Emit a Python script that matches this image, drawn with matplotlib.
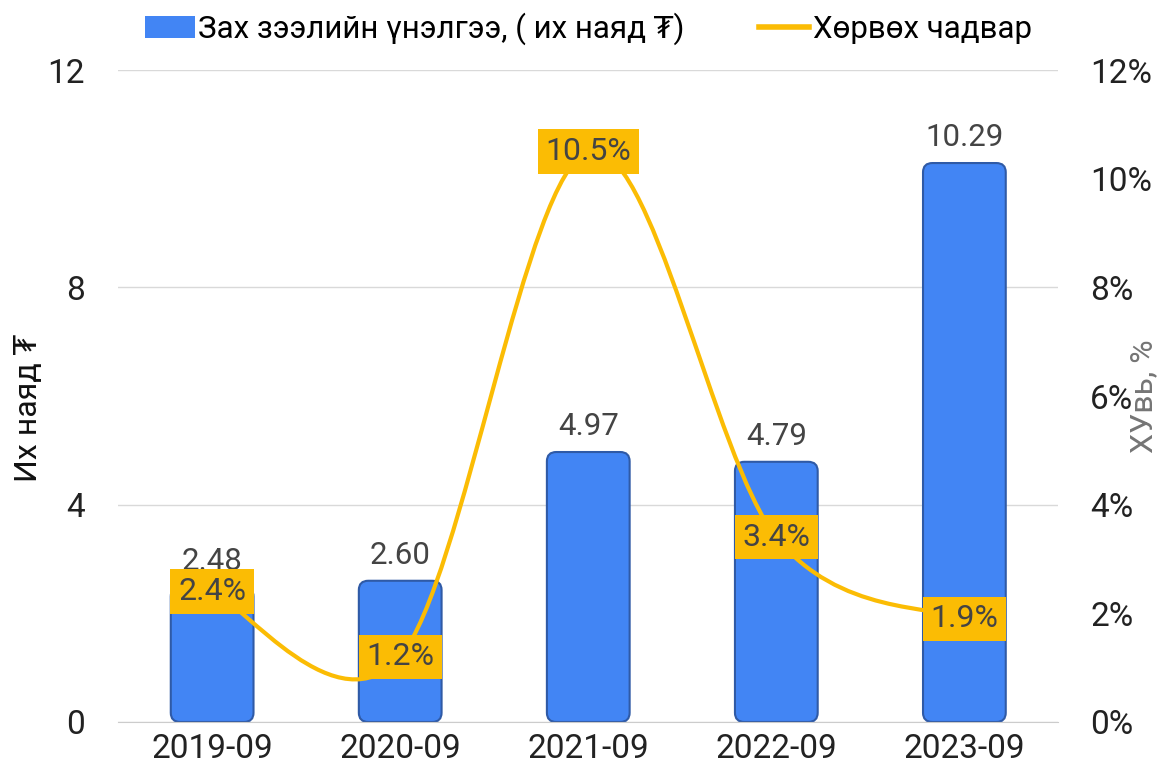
import matplotlib.pyplot as plt
from matplotlib.patches import FancyBboxPatch, Patch
from matplotlib.lines import Line2D
from matplotlib.path import Path
from matplotlib.patches import PathPatch
from matplotlib.ticker import FuncFormatter

# Өгөгдөл
periods = ['2019-09', '2020-09', '2021-09', '2022-09', '2023-09']
market_cap = [2.48, 2.60, 4.97, 4.79, 10.29]
turnover = [2.4, 1.2, 10.5, 3.4, 1.9]

bar_label = 'Зах зээлийн үнэлгээ, ( их наяд ₮)'
line_label = 'Хөрвөх чадвар'

blue = '#4285f4'
blue_edge = '#2f5aa6'
yellow = '#fbbc04'
text_dark = '#444444'

plt.rcParams['font.family'] = ['Roboto', 'DejaVu Sans']

fig = plt.figure(figsize=(11.58, 7.76), dpi=100)
ax = fig.add_axes([0.102, 0.0696, 0.812, 0.840])
ax2 = ax.twinx()

x = list(range(len(periods)))

# Баганууд (булан нь дугуйрсан)
bars = ax.bar(x, market_cap, width=0.44, color=blue)
for b in bars:
    b.set_visible(False)
    p = FancyBboxPatch((b.get_x(), 0), b.get_width(), b.get_height(),
                       boxstyle='round,pad=0,rounding_size=0.05',
                       mutation_aspect=3.4, fc=blue, ec=blue_edge, lw=1.5, zorder=2)
    ax.add_patch(p)

for xi, v in zip(x, market_cap):
    ax.annotate(f'{v:.2f}', (xi, v), xytext=(0, 8), textcoords='offset points',
                ha='center', va='bottom', fontsize=22.5, color=text_dark)

ax.set_xlim(-0.5, 4.5)
ax.set_ylim(0, 12)
ax.set_yticks([0, 4, 8, 12])
ax.set_xticks(x)
ax.set_xticklabels(periods)
ax.grid(axis='y', color='#d9d9d9', lw=1)
ax.set_axisbelow(True)
ax.tick_params(axis='both', length=0, labelsize=24, colors='#222222')
ax.tick_params(axis='y', pad=24)
ax.tick_params(axis='x', pad=8)
for s in ax.spines.values():
    s.set_visible(False)
ax.spines['bottom'].set_visible(True)
ax.spines['bottom'].set_color('#cccccc')

# Хөрвөх чадвар - гөлгөр муруй
ax2.set_ylim(0, 12)
ax2.set_yticks(range(0, 13, 2))
ax2.yaxis.set_major_formatter(FuncFormatter(lambda v, _: f'{v:.0f}%'))
ax2.tick_params(axis='y', length=0, labelsize=24, colors='#222222', pad=23)
for s in ax2.spines.values():
    s.set_visible(False)

fig.text(0.025, 0.474, 'Их наяд ₮', rotation=90, ha='center', va='center',
         fontsize=23, color='#111111')
fig.text(0.988, 0.49, 'ХУвь, %', rotation=90, ha='center', va='center',
         fontsize=23, color='#757575')

pts = list(zip(x, turnover))
verts = [pts[0]]
codes = [Path.MOVETO]
n = len(pts)
for i in range(n - 1):
    p0 = pts[i - 1] if i > 0 else pts[i]
    p1 = pts[i]
    p2 = pts[i + 1]
    p3 = pts[i + 2] if i + 2 < n else pts[i + 1]
    c1 = (p1[0] + (p2[0] - p0[0]) / 6, p1[1] + (p2[1] - p0[1]) / 6)
    c2 = (p2[0] - (p3[0] - p1[0]) / 6, p2[1] - (p3[1] - p1[1]) / 6)
    verts += [c1, c2, p2]
    codes += [Path.CURVE4] * 3
ax2.add_patch(PathPatch(Path(verts, codes), fc='none', ec=yellow, lw=3, zorder=3,
                        capstyle='round'))

for xi, v in zip(x, turnover):
    ax2.text(xi, v, f'{v:.1f}%', ha='center', va='center', fontsize=23, color=text_dark,
             zorder=4, bbox=dict(boxstyle='square,pad=0.24', fc=yellow, ec='none'))

# Тайлбар
handles = [Patch(fc=blue, ec='none'), Line2D([0], [0], color=yellow, lw=4)]
fig.legend(handles, [bar_label, line_label], loc='upper center', ncol=2, frameon=False,
           fontsize=22.5, bbox_to_anchor=(0.508, 1.02), handlelength=1.6,
           handletextpad=0.1, columnspacing=2.4)

fig.savefig('out.png', dpi=100)
